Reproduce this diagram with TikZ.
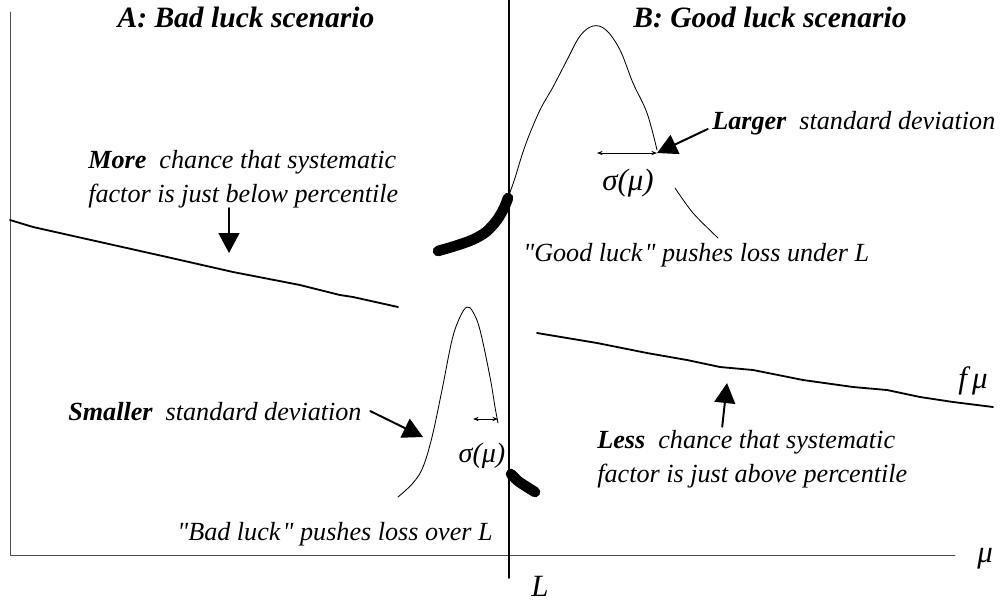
\documentclass[tikz,border=0pt]{standalone}
\usepackage{fontspec}
\setmainfont{Liberation Serif}
\usetikzlibrary{arrows.meta}
\begin{document}
\begin{tikzpicture}[x=0.025cm, y=-0.025cm, line join=round, line cap=round,
		txt/.style={font=\fontsize{18.6}{24}\selectfont\itshape, inner sep=0pt},
		ttl/.style={font=\fontsize{21}{24}\selectfont\bfseries\itshape, inner sep=0pt},
		sig/.style={font=\fontsize{22}{24}\selectfont\itshape, inner sep=0pt},
		axis/.style={line width=0.5pt, black!70},
		fline/.style={line width=1.3pt},
		dens/.style={line width=0.6pt},
		tailpart/.style={line width=7.5pt},
		pointer/.style={line width=1.4pt, -{Triangle[length=0.5cm, width=0.52cm]}},
		span/.style={line width=0.5pt, {Stealth[length=4pt, width=3pt]}-{Stealth[length=4pt, width=3pt]}}]
		\useasboundingbox (0,0) rectangle (1004,601);
		\coordinate (o) at (10,555);
		\coordinate (ytop) at (10,12);
		\coordinate (xend) at (955,555);
		\coordinate (Ltop) at (509,0);
		\coordinate (Lbot) at (509,578);
		\coordinate (moretip) at (229,253);
		\coordinate (tipB) at (657,153);
		\coordinate (sbL) at (597,153);
		\coordinate (tipA) at (423,437);
		\coordinate (saL) at (473,419);
		\coordinate (saR) at (498,419);
		\coordinate (lesstip) at (727,383);
		\draw[axis] (ytop) -- (o) -- (xend);
		\draw[line width=1.3pt] (Ltop) -- (Lbot);
		\draw[fline] (10,220) -- (33,227) -- (100,242) -- (167,257) -- (233,272) -- (300,285) -- (340,295) -- (353,297) -- (398,307);
		\draw[fline] (537,333) -- (597,343) -- (647,353) -- (687,360) -- (720,367) -- (753,370) -- (803,380) -- (853,387) -- (887,390) -- (920,397) -- (953,402) -- (993,407);
		\draw[dens] plot[smooth, tension=0.6] coordinates {(509,195) (515,178) (522,155) (530,133) (541,108) (553,87) (567,60) (580,36) (593,26) (606,30) (620,50) (633,83) (647,113) (657,150)};
		\draw[dens] plot[smooth] coordinates {(675,188) (693,213) (718,238)};
		\draw[tailpart] plot[smooth] coordinates {(438,251) (455,246) (472,240) (486,232) (497,220) (504,208) (508,198)};
		\draw[dens] plot[smooth, tension=0.6] coordinates {(398,497) (413,483) (423,467) (432,437) (442,390) (452,340) (460,317) (467,307) (473,312) (480,330) (490,377) (495,407) (498,423)};
		\draw[tailpart] plot[smooth] coordinates {(511,474) (518,481) (527,487) (535,492)};
		\draw[span] (sbL) -- (tipB);
		\draw[span] (saL) -- (saR);
		\node[ttl, anchor=base] (titleA) at (246,27) {A: Bad luck scenario};
		\node[ttl, anchor=base] (titleB) at (770,27) {B: Good luck scenario};
		\node[txt, anchor=west, align=left] (more) at (88,179) {\textbf{More}\ \ chance that systematic\\factor is just below percentile};
		\node[txt, anchor=base west] (larger) at (712,129) {\textbf{Larger}\ \ standard deviation};
		\node[sig, anchor=base] (sigB) at (628,190) {σ(μ)};
		\node[txt, anchor=base west] (goodl) at (523,261) {\textquotedbl Good luck\kern1.5pt\textquotedbl\ pushes loss under L};
		\node[txt, anchor=base west] (smaller) at (68,420) {\textbf{Smaller}\ \ standard deviation};
		\node[sig, anchor=base, font=\fontsize{20}{24}\selectfont\itshape] (sigA) at (482,462) {σ(μ)};
		\node[txt, anchor=base west] (badl) at (177,540) {\textquotedbl Bad luck\kern1.5pt\textquotedbl\ pushes loss over L};
		\node[txt, anchor=west, align=left] (less) at (597,459) {\textbf{Less}\ \ chance that systematic\\factor is just above percentile};
		\node[sig, anchor=base] (fmu) at (973,388) {f\,μ};
		\node[sig, anchor=base] (mu) at (985,562) {μ};
		\node[sig, anchor=base] (Llab) at (540,596) {L};
		\draw[pointer] (more.south -| moretip) -- (moretip);
		\draw[pointer] ([xshift=-3pt]larger.base west) -- (tipB);
		\draw[pointer] ([xshift=6pt]smaller.east) -- (tipA);
		\draw[pointer] (less.north -| lesstip) ++(-0.12cm,0.08cm) -- (lesstip);
	\end{tikzpicture}
\end{document}
